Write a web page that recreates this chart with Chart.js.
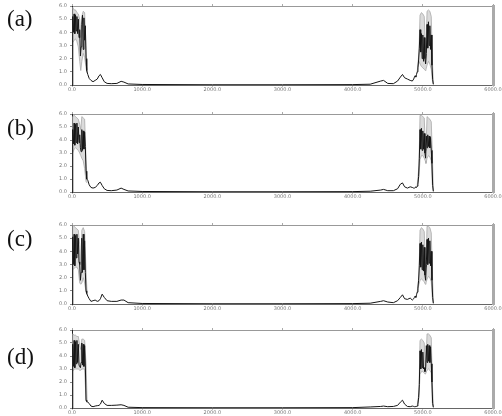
<!DOCTYPE html>
<html>
<head>
<meta charset="utf-8">
<script src="https://cdn.jsdelivr.net/npm/chart.js@4.4.1/dist/chart.umd.min.js"></script>
<style>
  body { margin: 0; width: 502px; height: 416px; overflow: hidden; background: #fff; position: relative; }
  canvas { position: absolute; left: 0; }
  .tag { position: absolute; left: 7px; font-family: "Liberation Serif", "Times New Roman", serif; font-size: 23px; line-height: 23px; color: #111; }
</style>
</head>
<body>
<canvas id="chartA" width="502" height="95" style="top:0px"></canvas>
<canvas id="chartB" width="502" height="94" style="top:108px"></canvas>
<canvas id="chartC" width="502" height="95" style="top:219px"></canvas>
<canvas id="chartD" width="502" height="94" style="top:324px"></canvas>
<div class="tag" style="top:7px">(a)</div>
<div class="tag" style="top:116px">(b)</div>
<div class="tag" style="top:227px">(c)</div>
<div class="tag" style="top:345px">(d)</div>
<script>
// x positions of the sampled spectrum
const freq = [0, 10, 20, 30, 40, 50, 60, 70, 80, 90, 100, 110, 120, 130, 140, 150, 160, 170, 180, 190, 200, 210,
  225, 245, 270, 300, 330, 360, 385, 405, 430, 460, 500, 560, 640, 700, 740, 800, 1000, 2000, 3000, 4000,
  4250, 4400, 4440, 4500, 4580, 4640, 4680, 4710, 4740, 4780, 4820, 4850, 4870,
  4880, 4890, 4900, 4910, 4920, 4930, 4940, 4950, 4960, 4970, 4980, 4990, 5000, 5010, 5020, 5030,
  5040, 5050, 5060, 5070, 5080, 5090, 5100, 5110, 5120, 5130, 5140, 5150];

// spread of the fast oscillation around the two peak groups
const envLeftFreq = [0, 10, 30, 50, 70, 90, 110, 125, 140, 160, 180, 200, 215];
const envRightFreq = [4920, 4945, 4960, 4980, 5000, 5020, 5035, 5045, 5060, 5080, 5100, 5120, 5135, 5150];

const xTicks = [0, 1000, 2000, 3000, 4000, 5000, 6000];
const yTicks = [0, 1, 2, 3, 4, 5, 6];

const specA = [0, 5.2, 4.0, 5.4, 3.9, 5.3, 4.1, 5.2, 3.9, 5.0, 3.6, 4.2, 2.2, 2.9, 4.6, 5.3, 2.7, 5.1, 3.4, 4.5, 2.0, 1.1,
  0.8, 0.5, 0.35, 0.25, 0.35, 0.45, 0.7, 0.8, 0.55, 0.25, 0.12, 0.1, 0.12, 0.28, 0.22, 0.08, 0.04, 0.02, 0.02, 0.03,
  0.06, 0.3, 0.35, 0.12, 0.1, 0.3, 0.6, 0.8, 0.55, 0.45, 0.35, 0.3, 0.45,
  0.6, 0.7, 0.6, 0.8, 1.0, 1.3, 1.9, 2.8, 4.2, 2.5, 3.9, 2.0, 3.8, 1.8, 3.6, 2.0,
  1.6, 2.4, 4.6, 2.8, 4.8, 3.0, 4.5, 2.7, 3.8, 1.5, 0.4, 0.05];
const hiLeftA = [0, 5.9, 5.7, 5.7, 5.5, 5.4, 5.0, 3.6, 5.2, 5.6, 5.5, 3.0, 1.0];
const loLeftA = [0, 3.2, 3.4, 3.5, 3.3, 2.9, 1.8, 1.1, 1.8, 2.4, 2.1, 1.3, 0.9];
const hiRightA = [1.0, 2.5, 5.3, 5.5, 5.4, 5.2, 3.0, 2.5, 5.6, 5.7, 5.6, 5.2, 2.0, 0.1];
const loRightA = [1.0, 1.8, 1.6, 1.4, 1.3, 1.2, 1.1, 1.2, 1.5, 1.8, 1.6, 1.2, 0.4, 0.05];

const specB = [0, 4.8, 3.7, 5.3, 3.6, 5.2, 3.8, 5.3, 3.7, 5.0, 3.8, 4.4, 3.4, 3.1, 4.8, 3.2, 4.7, 3.3, 4.6, 3.5, 1.6, 1.0,
  0.9, 0.55, 0.35, 0.3, 0.35, 0.5, 0.7, 0.75, 0.5, 0.25, 0.12, 0.1, 0.15, 0.3, 0.2, 0.08, 0.04, 0.02, 0.02, 0.03,
  0.06, 0.15, 0.2, 0.1, 0.1, 0.25, 0.6, 0.7, 0.4, 0.3, 0.4, 0.35, 0.3,
  0.3, 0.35, 0.4, 0.35, 0.45, 0.6, 1.2, 2.6, 4.8, 3.3, 4.9, 3.2, 4.7, 3.3, 4.5, 3.0,
  2.6, 4.3, 3.4, 4.4, 3.5, 4.3, 3.4, 4.2, 3.2, 2.2, 0.5, 0.05];
const hiLeftB = [0, 5.8, 5.9, 5.8, 5.7, 5.6, 5.2, 4.8, 5.8, 5.7, 5.6, 2.5, 0.9];
const loLeftB = [0, 3.0, 3.3, 3.4, 3.3, 3.2, 3.0, 2.8, 2.6, 2.4, 1.8, 0.8, 0.7];
const hiRightB = [0.5, 2.0, 5.9, 5.9, 5.8, 5.7, 3.5, 3.2, 5.8, 5.7, 5.6, 5.4, 3.0, 0.1];
const loRightB = [0.45, 1.2, 2.5, 2.8, 2.8, 2.6, 2.4, 2.2, 2.6, 2.8, 2.7, 2.4, 0.6, 0.05];

const specC = [0, 5.1, 3.0, 5.3, 2.9, 5.2, 3.5, 5.3, 3.8, 5.0, 3.2, 3.0, 1.8, 2.4, 5.0, 2.4, 5.3, 2.6, 4.8, 2.4, 1.0, 0.8,
  0.6, 0.4, 0.2, 0.25, 0.3, 0.2, 0.25, 0.4, 0.75, 0.5, 0.25, 0.2, 0.2, 0.3, 0.3, 0.1, 0.04, 0.02, 0.02, 0.03,
  0.06, 0.2, 0.25, 0.15, 0.1, 0.25, 0.5, 0.7, 0.4, 0.35, 0.45, 0.3, 0.4,
  0.5, 0.6, 0.5, 0.7, 0.9, 1.2, 1.8, 2.9, 4.6, 2.8, 4.7, 2.6, 4.5, 2.5, 4.3, 2.2,
  1.8, 3.0, 4.9, 3.0, 5.0, 3.1, 4.8, 2.9, 4.0, 1.8, 0.5, 0.05];
const hiLeftC = [0, 6.0, 5.9, 5.8, 5.7, 5.6, 4.5, 3.0, 5.6, 5.8, 5.5, 2.5, 0.8];
const loLeftC = [0, 2.6, 2.7, 2.8, 2.8, 2.6, 1.6, 1.5, 1.6, 2.0, 1.6, 0.9, 0.7];
const hiRightC = [0.9, 2.2, 5.6, 5.8, 5.7, 5.5, 3.2, 2.8, 5.9, 5.9, 5.8, 5.4, 2.5, 0.1];
const loRightC = [0.85, 1.5, 1.8, 1.9, 1.8, 1.7, 1.5, 1.6, 1.9, 2.1, 2.0, 1.7, 0.5, 0.05];

const specD = [0, 4.9, 3.2, 5.2, 3.1, 5.1, 3.4, 5.2, 3.5, 4.9, 3.3, 3.3, 3.1, 3.5, 5.0, 3.3, 4.9, 3.2, 4.8, 3.3, 0.6, 0.5,
  0.45, 0.35, 0.15, 0.1, 0.15, 0.18, 0.2, 0.3, 0.6, 0.35, 0.2, 0.2, 0.22, 0.25, 0.2, 0.06, 0.03, 0.02, 0.02, 0.03,
  0.08, 0.12, 0.15, 0.1, 0.12, 0.2, 0.45, 0.6, 0.3, 0.12, 0.1, 0.15, 0.12,
  0.1, 0.12, 0.1, 0.12, 0.15, 0.3, 0.8, 1.8, 4.4, 3.0, 4.5, 3.1, 4.3, 3.0, 3.1, 2.8,
  3.0, 4.8, 3.5, 4.9, 3.6, 4.8, 3.5, 4.7, 3.4, 2.0, 0.35, 0.05];
const hiLeftD = [0, 5.7, 5.6, 5.6, 5.5, 5.5, 4.8, 4.5, 5.3, 5.3, 5.2, 3.4, 0.5];
const loLeftD = [0, 2.8, 3.0, 3.0, 3.0, 3.0, 2.9, 2.9, 3.0, 3.0, 3.0, 0.6, 0.4];
const hiRightD = [0.15, 1.2, 5.2, 5.3, 5.2, 5.0, 3.2, 3.4, 5.7, 5.7, 5.6, 5.4, 2.0, 0.1];
const loRightD = [0.15, 0.8, 2.6, 2.8, 2.8, 2.7, 2.6, 2.6, 2.9, 3.0, 2.9, 2.7, 0.4, 0.05];

function pts(xs, ys) {
  return xs.map((x, i) => ({ x: x, y: ys[i] }));
}

function envelope(xs, ys, fill) {
  return {
    data: pts(xs, ys),
    borderColor: '#a8a8a8',
    borderWidth: 0.8,
    backgroundColor: 'rgba(175, 175, 175, 0.45)',
    fill: fill,
    pointRadius: 0,
    tension: 0
  };
}

const tickFont = { size: 5, family: 'DejaVu Sans' };

function drawChart(canvasId, spec, hiL, loL, hiR, loR) {
  const ctx = document.getElementById(canvasId).getContext('2d');

  new Chart(ctx, {
    type: 'line',
    data: {
      datasets: [
        { data: pts(freq, spec), borderColor: '#151515', borderWidth: 1, pointRadius: 0, tension: 0, fill: false },
        envelope(envLeftFreq, hiL, '+1'),
        envelope(envLeftFreq, loL, false),
        envelope(envRightFreq, hiR, '+1'),
        envelope(envRightFreq, loR, false)
      ]
    },
    options: {
      responsive: false,
      animation: false,
      layout: { padding: 0 },
      scales: {
        x: {
          type: 'linear',
          position: 'bottom',
          min: 0,
          max: 6000,
          afterBuildTicks: axis => { axis.ticks = xTicks.map(v => ({ value: v })); },
          afterFit: axis => { axis.height = 10; },
          ticks: { font: tickFont, color: '#777', padding: 0, maxRotation: 0, autoSkip: false,
            callback: v => v.toFixed(1) },
          grid: { drawOnChartArea: false, tickLength: 1.5, color: '#888' },
          border: { color: '#666', width: 1 }
        },
        xTop: {
          type: 'linear',
          position: 'top',
          min: 0,
          max: 6000,
          afterBuildTicks: axis => { axis.ticks = xTicks.map(v => ({ value: v })); },
          afterFit: axis => { axis.height = 3; },
          ticks: { display: false },
          grid: { drawOnChartArea: false, tickLength: 2, color: '#aaa' },
          border: { color: '#999', width: 1 }
        },
        y: {
          position: 'left',
          min: 0,
          max: 6,
          afterBuildTicks: axis => { axis.ticks = yTicks.map(v => ({ value: v })); },
          afterFit: axis => { axis.width = 72; },
          ticks: { font: tickFont, color: '#777', padding: 3, callback: v => v.toFixed(1) },
          grid: { drawOnChartArea: false, tickLength: 2, color: '#888' },
          border: { color: '#222', width: 1 }
        },
        yRight: {
          position: 'right',
          min: 0,
          max: 6,
          afterBuildTicks: axis => { axis.ticks = yTicks.map(v => ({ value: v })); },
          afterFit: axis => { axis.width = 9; },
          ticks: { display: false },
          grid: { drawOnChartArea: false, tickLength: 0, color: '#bbb' },
          border: { color: '#aaa', width: 3 }
        }
      },
      plugins: {
        legend: { display: false },
        tooltip: { enabled: false }
      }
    }
  });
}

drawChart('chartA', specA, hiLeftA, loLeftA, hiRightA, loRightA);
drawChart('chartB', specB, hiLeftB, loLeftB, hiRightB, loRightB);
drawChart('chartC', specC, hiLeftC, loLeftC, hiRightC, loRightC);
drawChart('chartD', specD, hiLeftD, loLeftD, hiRightD, loRightD);
</script>
</body>
</html>
